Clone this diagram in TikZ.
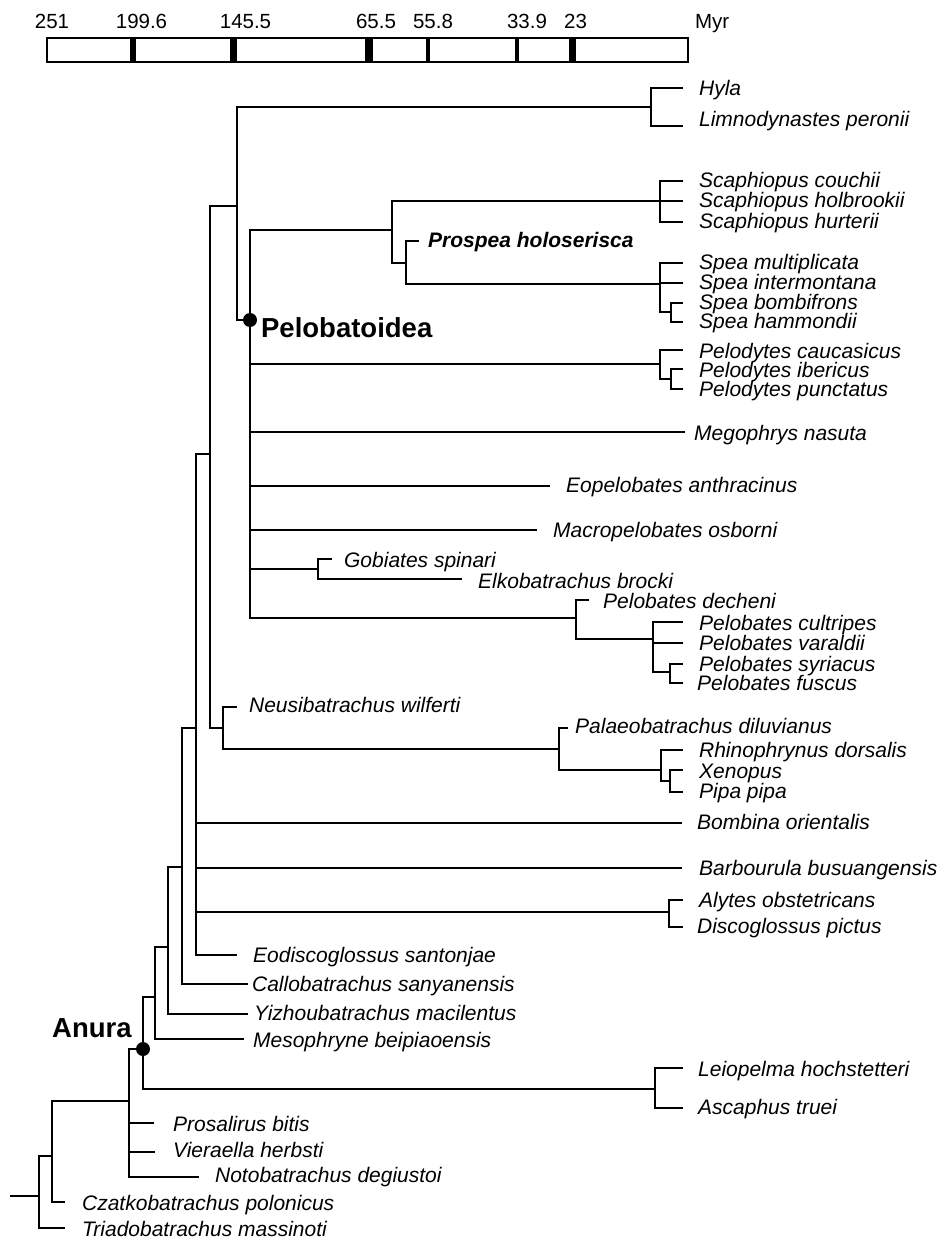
\documentclass[tikz,border=0pt]{standalone}
\usepackage{fontspec}
\setmainfont{Liberation Sans}
\usepackage{tikz}

\begin{document}
\begin{tikzpicture}[x=1pt, y=-1pt, line width=2.3pt,
    taxon/.style={anchor=base west, inner sep=0pt, yshift=-7.5pt,
        font=\fontsize{21}{24}\selectfont\itshape},
    clade/.style={anchor=base west, inner sep=0pt,
        font=\fontsize{27.5}{30}\selectfont\bfseries},
    age/.style={anchor=base, inner sep=0pt, font=\fontsize{20.5}{24}\selectfont},
    dot/.style={circle, fill=black, inner sep=0pt, minimum size=14pt}]
    \useasboundingbox (0,0) rectangle (939,1241);

    % Time scale
    \draw (47,38) rectangle (688,62);
    \draw[line width=6pt] (133,38) -- (133,62);
    \draw[line width=6.5pt] (233.5,38) -- (233.5,62);
    \draw[line width=8pt] (368.5,38) -- (368.5,62);
    \draw[line width=3.5pt] (428,38) -- (428,62);
    \draw[line width=3.5pt] (517,38) -- (517,62);
    \draw[line width=6.5pt] (572.5,38) -- (572.5,62);
    \node[age] (a251) at (52,28.5) {251};
    \node[age] (a199) at (141.5,28.5) {199.6};
    \node[age] (a145) at (245.5,28.5) {145.5};
    \node[age] (a65) at (376,28.5) {65.5};
    \node[age] (a55) at (433,28.5) {55.8};
    \node[age] (a33) at (527,28.5) {33.9};
    \node[age] (a23) at (575.5,28.5) {23};
    \node[age, anchor=base west] (myr) at (694,28.5) {Myr};

    % Internal nodes
    \coordinate (root) at (10,1196);
    \coordinate (n1) at (39,1196);
    \coordinate (n2) at (52,1156);
    \coordinate (n3) at (129,1101);
    \coordinate (anura) at (143,1049);
    \coordinate (nle) at (655,1089);
    \coordinate (n5) at (155,997);
    \coordinate (n6) at (168,947);
    \coordinate (n7) at (182,867);
    \coordinate (n8) at (196,728);
    \coordinate (nal) at (669,912);
    \coordinate (n9) at (210,454);
    \coordinate (nne) at (223,728);
    \coordinate (npa) at (559,749);
    \coordinate (nrh) at (661,770);
    \coordinate (nxe) at (670,781);
    \coordinate (n10) at (237,206);
    \coordinate (nhy) at (651,107);
    \coordinate (pelo) at (250,320);
    \coordinate (nsc) at (392,230);
    \coordinate (nsca) at (660,201);
    \coordinate (npr) at (406,263);
    \coordinate (nsp) at (660,284);
    \coordinate (nbo) at (671,312);
    \coordinate (npd) at (660,364);
    \coordinate (nib) at (671,379);
    \coordinate (ngo) at (318,569);
    \coordinate (npb) at (576,618);
    \coordinate (ncu) at (653,639);
    \coordinate (nsy) at (670,672);

    % Tips
    \coordinate (t-hyla) at (683,88);
    \coordinate (t-limno) at (683,126);
    \coordinate (t-couchii) at (683,181);
    \coordinate (t-holb) at (683,201);
    \coordinate (t-hurt) at (683,222);
    \coordinate (t-prospea) at (419,241);
    \coordinate (t-multi) at (683,263);
    \coordinate (t-inter) at (683,283);
    \coordinate (t-bombi) at (683,303);
    \coordinate (t-hamm) at (683,322);
    \coordinate (t-cauc) at (683,350);
    \coordinate (t-iber) at (683,369);
    \coordinate (t-punct) at (683,389);
    \coordinate (t-mego) at (685,432);
    \coordinate (t-eope) at (550,486);
    \coordinate (t-macro) at (537,530);
    \coordinate (t-gobi) at (332,559);
    \coordinate (t-elko) at (462,579);
    \coordinate (t-dech) at (589,600);
    \coordinate (t-cult) at (683,622);
    \coordinate (t-vara) at (683,643);
    \coordinate (t-syri) at (683,664);
    \coordinate (t-fusc) at (683,683);
    \coordinate (t-neusi) at (237,707);
    \coordinate (t-palaeo) at (568,728);
    \coordinate (t-rhino) at (683,750);
    \coordinate (t-xeno) at (683,770);
    \coordinate (t-pipa) at (683,792);
    \coordinate (t-bomb) at (682,823);
    \coordinate (t-barb) at (682,868);
    \coordinate (t-alytes) at (683,900);
    \coordinate (t-disco) at (683,927);
    \coordinate (t-eodis) at (237,955);
    \coordinate (t-callo) at (248,984);
    \coordinate (t-yizhou) at (248,1014);
    \coordinate (t-meso) at (244,1039);
    \coordinate (t-leio) at (683,1068);
    \coordinate (t-ascaph) at (683,1108);
    \coordinate (t-prosal) at (154,1123);
    \coordinate (t-viera) at (155,1152);
    \coordinate (t-noto) at (199,1177);
    \coordinate (t-czatko) at (65,1202);
    \coordinate (t-triado) at (65,1228);

    % Branches: basal part
    \draw (root) -- (n1);
    \draw (n1) |- (n2);
    \draw (n1) |- (t-triado);
    \draw (n2) |- (n3);
    \draw (n2) |- (t-czatko);
    \draw (n3) |- (anura);
    \draw (n3) |- (t-prosal);
    \draw (n3) |- (t-viera);
    \draw (n3) |- (t-noto);
    \draw (anura) |- (n5);
    \draw (anura) |- (nle);
    \draw (nle) |- (t-leio);
    \draw (nle) |- (t-ascaph);
    \draw (n5) |- (n6);
    \draw (n5) |- (t-meso);
    \draw (n6) |- (n7);
    \draw (n6) |- (t-yizhou);
    \draw (n7) |- (n8);
    \draw (n7) |- (t-callo);
    \draw (n8) |- (n9);
    \draw (n8) |- (t-bomb);
    \draw (n8) |- (t-barb);
    \draw (n8) |- (nal);
    \draw (n8) |- (t-eodis);
    \draw (nal) |- (t-alytes);
    \draw (nal) |- (t-disco);

    % Branches: palaeobatrachids and pipoids
    \draw (n9) |- (n10);
    \draw (n9) |- (nne);
    \draw (nne) |- (t-neusi);
    \draw (nne) |- (npa);
    \draw (npa) |- (t-palaeo);
    \draw (npa) |- (nrh);
    \draw (nrh) |- (t-rhino);
    \draw (nrh) |- (nxe);
    \draw (nxe) |- (t-xeno);
    \draw (nxe) |- (t-pipa);

    % Branches: neobatrachians and pelobatoids
    \draw (n10) |- (nhy);
    \draw (n10) |- (pelo);
    \draw (nhy) |- (t-hyla);
    \draw (nhy) |- (t-limno);
    \draw (pelo) |- (nsc);
    \draw (pelo) |- (npd);
    \draw (pelo) |- (t-mego);
    \draw (pelo) |- (t-eope);
    \draw (pelo) |- (t-macro);
    \draw (pelo) |- (ngo);
    \draw (pelo) |- (npb);
    \draw (nsc) |- (nsca);
    \draw (nsc) |- (npr);
    \draw (nsca) |- (t-couchii);
    \draw (nsca) |- (t-holb);
    \draw (nsca) |- (t-hurt);
    \draw (npr) |- (t-prospea);
    \draw (npr) |- (nsp);
    \draw (nsp) |- (t-multi);
    \draw (nsp) |- (t-inter);
    \draw (nsp) |- (nbo);
    \draw (nbo) |- (t-bombi);
    \draw (nbo) |- (t-hamm);
    \draw (npd) |- (t-cauc);
    \draw (npd) |- (nib);
    \draw (nib) |- (t-iber);
    \draw (nib) |- (t-punct);
    \draw (ngo) |- (t-gobi);
    \draw (ngo) |- (t-elko);
    \draw (npb) |- (t-dech);
    \draw (npb) |- (ncu);
    \draw (ncu) |- (t-cult);
    \draw (ncu) |- (t-vara);
    \draw (ncu) |- (nsy);
    \draw (nsy) |- (t-syri);
    \draw (nsy) |- (t-fusc);

    % Clade markers
    \node[dot] (pelodot) at (pelo) {};
    \node[clade] (pelolabel) at (260,337) {Pelobatoidea};
    \node[dot] (anuradot) at (anura) {};
    \node[clade] (anuralabel) at (51,1037) {Anura};

    % Taxon names
    \node[taxon] (hyla) at (698,88) {Hyla};
    \node[taxon] (limno) at (698,119) {Limnodynastes peronii};
    \node[taxon] (couchii) at (698,180) {Scaphiopus couchii};
    \node[taxon] (holb) at (698,200) {Scaphiopus holbrookii};
    \node[taxon] (hurt) at (698,221) {Scaphiopus hurterii};
    \node[taxon, font=\fontsize{21}{24}\selectfont\bfseries\itshape] (prospea) at (427,240) {Prospea holoserisca};
    \node[taxon] (multi) at (698,262) {Spea multiplicata};
    \node[taxon] (inter) at (698,282) {Spea intermontana};
    \node[taxon] (bombi) at (698,302) {Spea bombifrons};
    \node[taxon] (hamm) at (698,321) {Spea hammondii};
    \node[taxon] (cauc) at (698,351) {Pelodytes caucasicus};
    \node[taxon] (iber) at (698,370) {Pelodytes ibericus};
    \node[taxon] (punct) at (698,389) {Pelodytes punctatus};
    \node[taxon] (mego) at (693,433) {Megophrys nasuta};
    \node[taxon] (eope) at (565,485) {Eopelobates anthracinus};
    \node[taxon] (macro) at (552,530) {Macropelobates osborni};
    \node[taxon] (gobi) at (343,560) {Gobiates spinari};
    \node[taxon] (elko) at (477,581) {Elkobatrachus brocki};
    \node[taxon] (dech) at (602,601) {Pelobates decheni};
    \node[taxon] (cult) at (698,623) {Pelobates cultripes};
    \node[taxon] (vara) at (698,643) {Pelobates varaldii};
    \node[taxon] (syri) at (698,664) {Pelobates syriacus};
    \node[taxon] (fusc) at (696,683) {Pelobates fuscus};
    \node[taxon] (neusi) at (248,705) {Neusibatrachus wilferti};
    \node[taxon] (palaeo) at (574,726) {Palaeobatrachus diluvianus};
    \node[taxon] (rhino) at (698,750) {Rhinophrynus dorsalis};
    \node[taxon] (xeno) at (698,771) {Xenopus};
    \node[taxon] (pipa) at (698,791) {Pipa pipa};
    \node[taxon] (bomb) at (696,822) {Bombina orientalis};
    \node[taxon] (barb) at (698,868) {Barbourula busuangensis};
    \node[taxon] (alytes) at (698,900) {Alytes obstetricans};
    \node[taxon] (disco) at (696,926) {Discoglossus pictus};
    \node[taxon] (eodis) at (252,955) {Eodiscoglossus santonjae};
    \node[taxon] (callo) at (251,984) {Callobatrachus sanyanensis};
    \node[taxon] (yizhou) at (253,1013) {Yizhoubatrachus macilentus};
    \node[taxon] (meso) at (252,1040) {Mesophryne beipiaoensis};
    \node[taxon] (leio) at (697,1069) {Leiopelma hochstetteri};
    \node[taxon] (ascaph) at (697,1107) {Ascaphus truei};
    \node[taxon] (prosal) at (172,1124) {Prosalirus bitis};
    \node[taxon] (viera) at (172,1150) {Vieraella herbsti};
    \node[taxon] (noto) at (214,1175) {Notobatrachus degiustoi};
    \node[taxon] (czatko) at (81,1203) {Czatkobatrachus polonicus};
    \node[taxon] (triado) at (81,1229) {Triadobatrachus massinoti};
\end{tikzpicture}
\end{document}
